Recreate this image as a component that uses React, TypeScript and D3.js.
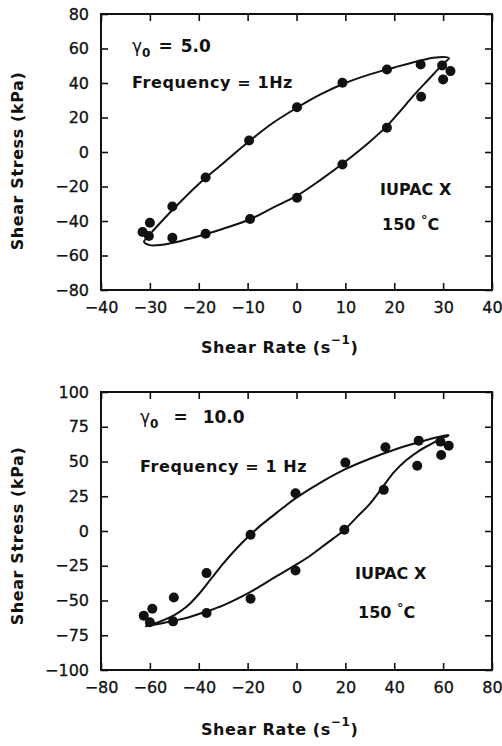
import React, { useEffect, useRef } from 'react';
import * as d3 from 'd3';

// top panel: gamma0 = 5.0
const topRate = [-31.5, -30, -30.2, -25.4, -25.4, -18.6, -18.6, -9.7, -9.5, 0.1, 0.1, 9.4, 9.4, 18.5, 18.5, 25.4, 25.5, 29.8, 30, 31.5];
const topStress = [-46.4, -41, -48.7, -31.6, -49.7, -14.8, -47.4, 6.7, -38.8, 25.9, -26.5, 40.1, -7.2, 47.8, 14.1, 50.7, 32, 50.2, 42.1, 46.9];
const topUpperRate = [-29.6, -25, -20, -15, -10, -5, 0, 5, 10, 15, 20, 25, 28, 30.5, 31.2, 30.4];
const topUpperStress = [-46.4, -32.5, -18.5, -6.5, 5.5, 16.5, 25.5, 33.5, 40, 45, 49, 52.8, 54.6, 55, 54.3, 52.2];
const topLowerRate = [30.4, 29.7, 27, 24.3, 21, 18.5, 15, 10, 5, 0, -5, -9.5, -15, -19, -25, -27.5, -30, -31.2, -29.6];
const topLowerStress = [52.2, 50.2, 42, 33.8, 23, 15, 6, -5.5, -16, -25.5, -32.5, -39, -44.5, -48, -52.5, -53.8, -54, -52, -47.5];
const topXTicks = [-40, -30, -20, -10, 0, 10, 20, 30, 40];
const topYTicks = [-80, -60, -40, -20, 0, 20, 40, 60, 80];

// bottom panel: gamma0 = 10.0
const botRate = [-62.5, -59, -60, -50.2, -50.5, -36.8, -36.8, -18.8, -18.8, -0.4, -0.4, 20, 19.6, 36.4, 35.7, 50, 49.4, 58.9, 59.2, 62.3];
const botStress = [-60.9, -55.9, -65.7, -47.8, -65, -30.3, -59, -2.7, -48.7, 27.2, -28.4, 49.2, 0.9, 60.3, 29.6, 65, 47, 64.3, 54.7, 61.4];
const botUpperRate = [-61.8, -56, -50, -45, -40, -35, -30, -25, -20, -15, -10, -5, 0, 10, 20, 30, 40, 50, 58, 62.3, 61];
const botUpperStress = [-68.6, -65.3, -60.5, -54.5, -45.5, -34.5, -23.5, -13.5, -4.5, 3.5, 10.5, 17.5, 24, 35, 44.5, 52, 58.5, 63.8, 67.6, 69, 67.5];
const botLowerRate = [62.3, 60, 55, 50, 45, 40, 35, 30, 25, 20, 15, 10, 5, 0, -10, -19, -30, -37, -44, -50, -56, -61.8];
const botLowerStress = [69, 67.2, 62.5, 57.5, 51, 42.5, 31, 19.5, 10.5, 1.5, -5.5, -12, -18.5, -24, -34.5, -44, -53.5, -58, -62, -64.5, -66.8, -68.6];
const botXTicks = [-80, -60, -40, -20, 0, 20, 40, 60, 80];
const botYTicks = [-100, -75, -50, -25, 0, 25, 50, 75, 100];

const zip = (xs: number[], ys: number[]) => xs.map((x, i) => [x, ys[i]] as [number, number]);

const FONT = '"DejaVu Sans", sans-serif';
const INK = '#111';

type Panel = {
  top: number; bottom: number;
  xDomain: [number, number]; yDomain: [number, number];
  xTicks: number[]; yTicks: number[];
  points: [number, number][];
  curves: [number, number][][];
  gamma: string; eqGap: number;
  freq: string;
  ann: { gx: number; gy: number; fy: number; ix: number; iy: number; cx: number; cy: number };
  yTitleY: number; xTitleY: number;
};

const App = () => {
  const svgRef = useRef<SVGSVGElement>(null);

  useEffect(() => {
    const svg = d3.select(svgRef.current);
    svg.selectAll('*').remove();

    const left = 101, right = 492;

    const panels: Panel[] = [
      {
        top: 14, bottom: 290, xDomain: [-40, 40], yDomain: [-80, 80],
        xTicks: topXTicks, yTicks: topYTicks,
        points: zip(topRate, topStress),
        curves: [zip(topUpperRate, topUpperStress), zip(topLowerRate, topLowerStress)],
        gamma: '5.0', eqGap: 8, freq: 'Frequency = 1Hz',
        ann: { gx: 132, gy: 52, fy: 88, ix: 380, iy: 195, cx: 382, cy: 230 },
        yTitleY: 161, xTitleY: 353,
      },
      {
        top: 392, bottom: 670, xDomain: [-80, 80], yDomain: [-100, 100],
        xTicks: botXTicks, yTicks: botYTicks,
        points: zip(botRate, botStress),
        curves: [zip(botUpperRate, botUpperStress), zip(botLowerRate, botLowerStress)],
        gamma: '10.0', eqGap: 15, freq: 'Frequency = 1 Hz',
        ann: { gx: 140, gy: 423, fy: 472, ix: 355, iy: 579, cx: 358, cy: 618 },
        yTitleY: 536, xTitleY: 735,
      },
    ];

    panels.forEach((p) => {
      const x = d3.scaleLinear().domain(p.xDomain).range([left, right]);
      const y = d3.scaleLinear().domain(p.yDomain).range([p.bottom, p.top]);
      const g = svg.append('g');

      // inward ticks on all four sides
      const axes = [
        { ax: d3.axisBottom(x).tickValues(p.xTicks), tr: `translate(0,${p.bottom})`, lab: true },
        { ax: d3.axisTop(x).tickValues(p.xTicks), tr: `translate(0,${p.top})`, lab: false },
        { ax: d3.axisLeft(y).tickValues(p.yTicks), tr: `translate(${left},0)`, lab: true },
        { ax: d3.axisRight(y).tickValues(p.yTicks), tr: `translate(${right},0)`, lab: false },
      ];
      axes.forEach(({ ax, tr, lab }) => {
        const a = g.append('g')
          .attr('transform', tr)
          .call(ax.tickSizeInner(-7).tickSizeOuter(0).tickPadding(lab ? 12 : 0).tickFormat(lab ? d3.format('d') : () => ''));
        a.select('.domain').remove();
        a.selectAll('.tick line').attr('stroke', INK).attr('stroke-width', 1.6);
        a.selectAll('.tick text')
          .attr('fill', INK)
          .attr('stroke', INK)
          .attr('stroke-width', 0.3)
          .style('font-family', FONT)
          .style('font-size', '16px');
      });

      g.append('rect')
        .attr('x', left).attr('y', p.top)
        .attr('width', right - left).attr('height', p.bottom - p.top)
        .attr('fill', 'none').attr('stroke', INK).attr('stroke-width', 2);

      // fitted loop
      const line = d3.line<[number, number]>()
        .x(d => x(d[0]))
        .y(d => y(d[1]))
        .curve(d3.curveCatmullRom.alpha(0.5));
      p.curves.forEach(c => {
        g.append('path').datum(c)
          .attr('d', line)
          .attr('fill', 'none').attr('stroke', INK).attr('stroke-width', 2);
      });

      g.selectAll('circle.pt').data(p.points).enter()
        .append('circle')
        .attr('cx', d => x(d[0]))
        .attr('cy', d => y(d[1]))
        .attr('r', 5)
        .attr('fill', INK);

      // annotations
      const gt = g.append('text')
        .attr('x', p.ann.gx).attr('y', p.ann.gy)
        .style('font-family', FONT).style('font-size', '17px').attr('fill', INK);
      gt.append('tspan').text('γ');
      gt.append('tspan').attr('dy', 5).style('font-size', '12px').style('font-weight', 'bold').text('0');
      gt.append('tspan').attr('dy', -5).attr('dx', p.eqGap).style('font-weight', 'bold').text('=');
      gt.append('tspan').attr('dx', p.eqGap).style('font-weight', 'bold').text(p.gamma);

      g.append('text')
        .attr('x', p.ann.gx).attr('y', p.ann.fy)
        .style('font-family', FONT).style('font-size', '16px').style('font-weight', 'bold')
        .style('letter-spacing', '0.6px')
        .attr('fill', INK).text(p.freq);

      g.append('text')
        .attr('x', p.ann.ix).attr('y', p.ann.iy)
        .style('font-family', FONT).style('font-size', '16px').style('font-weight', 'bold')
        .attr('fill', INK).text('IUPAC X');

      const ct = g.append('text')
        .attr('x', p.ann.cx).attr('y', p.ann.cy)
        .style('font-family', FONT).style('font-size', '16px').style('font-weight', 'bold')
        .attr('fill', INK);
      ct.append('tspan').text('150 ');
      ct.append('tspan').attr('dy', -6).style('font-size', '13px').text('°');
      ct.append('tspan').attr('dy', 6).text('C');

      // axis titles
      g.append('text')
        .attr('transform', `translate(23,${p.yTitleY}) rotate(-90)`)
        .attr('text-anchor', 'middle')
        .style('font-family', FONT).style('font-size', '16px').style('font-weight', 'bold')
        .style('letter-spacing', '0.6px')
        .attr('fill', INK).text('Shear Stress (kPa)');

      const xt = g.append('text')
        .attr('x', 201).attr('y', p.xTitleY)
        .style('font-family', FONT).style('font-size', '16px').style('font-weight', 'bold')
        .style('letter-spacing', '0.6px')
        .attr('fill', INK);
      xt.append('tspan').text('Shear Rate (s');
      xt.append('tspan').attr('dy', -9).style('font-size', '12px').text('−1');
      xt.append('tspan').attr('dy', 9).text(')');
    });
  }, []);

  return (
    <svg
      ref={svgRef}
      width={502}
      height={746}
      style={{ position: 'absolute', left: 0, top: 0, background: '#fff' }}
    />
  );
};

export default App;
